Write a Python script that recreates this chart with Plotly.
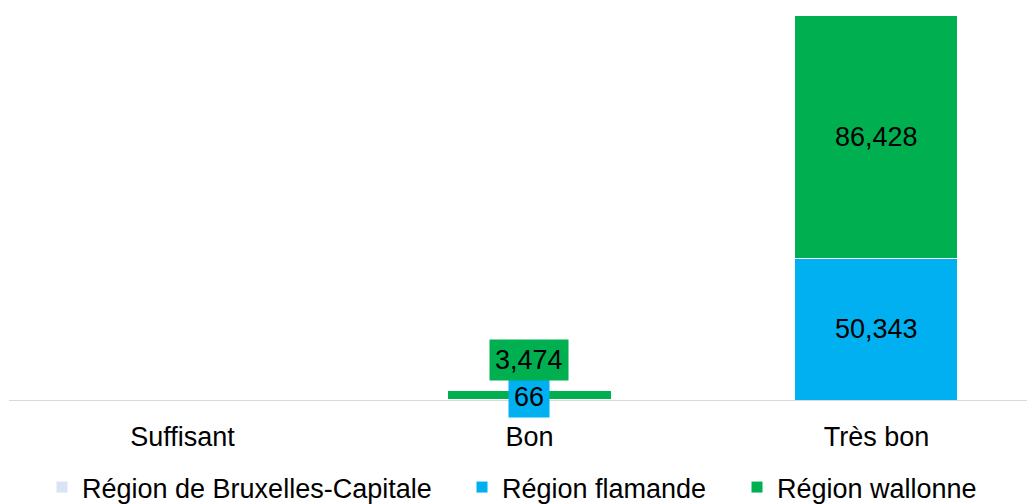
import plotly.graph_objects as go

categories = ["Suffisant", "Bon", "Très bon"]
series_names = ["Région de Bruxelles-Capitale", "Région flamande", "Région wallonne"]
bruxelles = [0, 0, 0]
flamande = [0, 66, 50343]
wallonne = [0, 3474, 86428]

colors = ["#dae3f3", "#00b0f0", "#00b050"]
FONT = "Liberation Sans, Arial, sans-serif"
FS = 27
W, H = 1035, 504
OFF = 8  # browser body margin

legend_ids = ["legend", "legend2", "legend3"]
legend_text_x = [82, 502, 777]  # page px where legend texts start

fig = go.Figure()
for name, vals, col, lid in zip(series_names, [bruxelles, flamande, wallonne], colors, legend_ids):
    fig.add_trace(go.Bar(
        x=categories, y=vals, name=name, legend=lid,
        marker=dict(color=col, line=dict(color="white", width=1)),
        width=0.47,
    ))

# data labels
annotations = []
for i, cat in enumerate(categories):
    base = bruxelles[i]
    for vals, col, idx in [(flamande, colors[1], 1), (wallonne, colors[2], 2)]:
        v = vals[i]
        if v > 0:
            mid = base + v / 2
            small = v < 10000
            yshift = 0
            if small:
                yshift = 3 if idx == 1 else 35
            annotations.append(dict(
                x=cat, y=mid, text=f"{v:,}", showarrow=False,
                font=dict(family=FONT, size=FS, color="black"),
                bgcolor=col if small else None, borderpad=5,
                yshift=yshift, xref="x", yref="y",
            ))
        base += v

total_max = max(b + f + w for b, f, w in zip(bruxelles, flamande, wallonne))

legends = {}
for lid, tx in zip(legend_ids, legend_text_x):
    legends[lid] = dict(
        orientation="h", xref="container", x=(tx - 40 - OFF) / W, xanchor="left",
        yref="container", y=0.0, yanchor="bottom",
        font=dict(family=FONT, size=FS, color="black"),
        bgcolor="rgba(0,0,0,0)",
    )

fig.update_layout(
    barmode="stack",
    width=W, height=H,
    margin=dict(l=1, r=0, t=7, b=112),
    paper_bgcolor="white", plot_bgcolor="white",
    font=dict(family=FONT, size=FS, color="black"),
    annotations=annotations,
    showlegend=True,
    xaxis=dict(
        range=[-0.5, 2.48], showline=True, linecolor="#d9d9d9", linewidth=1,
        ticks="outside", ticklen=13, tickcolor="rgba(0,0,0,0)",
        showgrid=False, zeroline=False,
        tickfont=dict(family=FONT, size=FS, color="black"),
    ),
    yaxis=dict(
        range=[0, total_max], visible=False, showgrid=False, zeroline=False,
    ),
    **legends,
)

fig.write_html("out.html")
